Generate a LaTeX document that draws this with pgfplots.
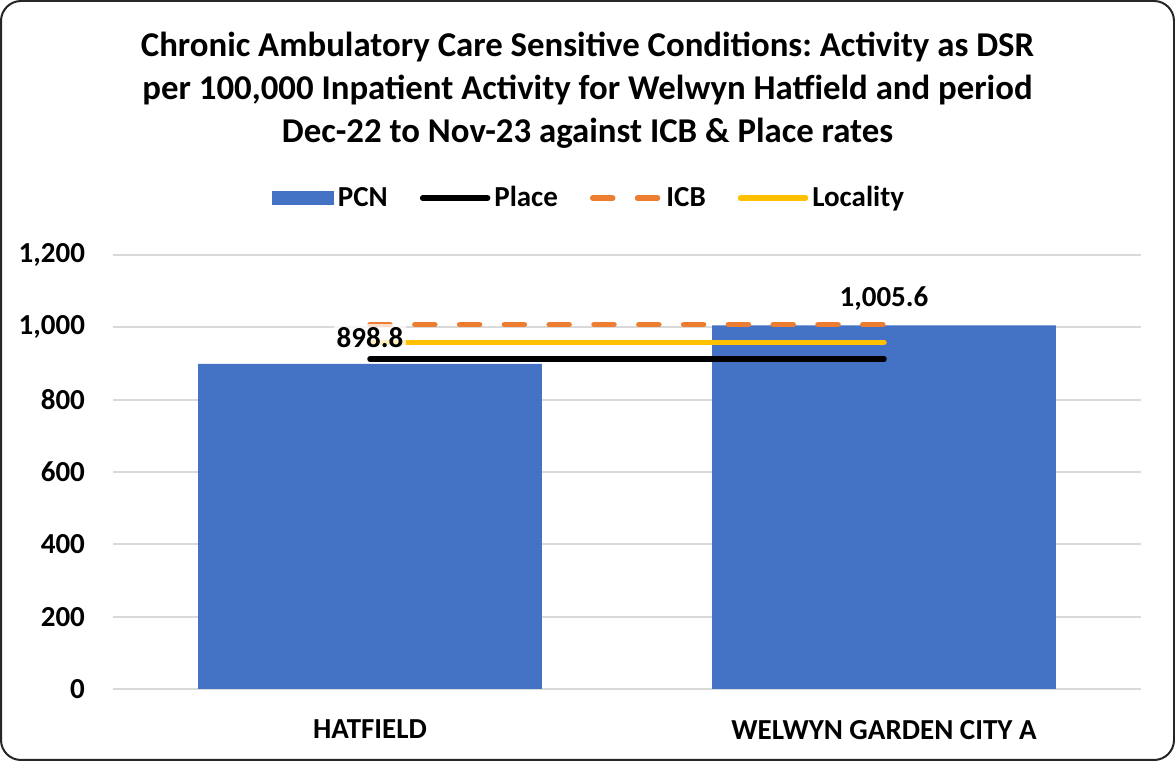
\documentclass[border=0pt]{standalone}
\usepackage{pgfplots}
\pgfplotsset{compat=1.18}
\usepackage{fontspec}
\setmainfont{Carlito}
\frenchspacing
\definecolor{barblue}{HTML}{4472C4}
\definecolor{icborange}{HTML}{ED7D31}
\definecolor{locyellow}{HTML}{FFC000}
\definecolor{gridgray}{HTML}{D9D9D9}
\begin{document}
\begin{tikzpicture}[x=1pt,y=1pt]
\draw[line width=1pt, rounded corners=10pt, draw=black!85] (0.5,0.5) rectangle (587,380);
\node[align=center, font=\bfseries\fontsize{17.4}{21.4}\selectfont] at (293.75,335.5)
  {Chronic Ambulatory Care Sensitive Conditions: Activity as DSR\\
   per 100,000 Inpatient Activity for Welwyn Hatfield and period\\
   Dec-22 to Nov-23 against ICB \& Place rates};
\begin{axis}[
  at={(56.5pt,36pt)}, anchor=south west,
  scale only axis, width=514pt, height=217pt,
  xmin=-0.5, xmax=1.5, ymin=0, ymax=1200,
  ytick={0,200,...,1200},
  xtick={0,1}, xticklabels={HATFIELD, WELWYN GARDEN CITY A},
  ymajorgrids, grid style={draw=gridgray, line width=1pt},
  axis line style={draw=none}, major tick length=0pt,
  tick label style={font=\bfseries\fontsize{14.5}{17}\selectfont},
  /pgf/number format/assume math mode=true,
  /pgf/number format/1000 sep={,},
  yticklabel style={xshift=-10.5pt},
  xticklabel style={yshift=-12pt},
  legend columns=4,
  legend style={draw=none, at={(0.464,1.131)}, anchor=center,
    font=\bfseries\fontsize{14.5}{17}\selectfont,
    /tikz/every even column/.append style={column sep=14pt}},
]
\addplot[ybar, bar width=0.669, fill=barblue, draw=none,
  legend image code/.code={\fill[barblue] (0pt,-3.5pt) rectangle (31pt,3.5pt);}]
  coordinates {(0,898.8) (1,1005.6)};
\addlegendentry{PCN}
\addplot[black, line width=2.75pt, line cap=round, mark=none,
  legend image code/.code={\draw[black, line width=2.75pt, line cap=round] (1.5pt,0) -- (34pt,0);}]
  coordinates {(0,912.4) (1,912.4)};
\addlegendentry{Place}
\addplot[icborange, line width=2.75pt, line cap=round, mark=none, dash pattern=on 10pt off 12.4pt,
  legend image code/.code={\draw[icborange, line width=2.75pt, line cap=round, dash pattern=on 10pt off 12.4pt] (1.5pt,0) -- (35pt,0);}]
  coordinates {(0,1007.4) (1,1007.4)};
\addlegendentry{ICB}
\addplot[locyellow, line width=2.75pt, line cap=round, mark=none,
  legend image code/.code={\draw[locyellow, line width=2.75pt, line cap=round] (1.5pt,0) -- (34pt,0);}]
  coordinates {(0,958.5) (1,958.5)};
\addlegendentry{Locality}
\addplot[draw=none, mark=none, forget plot,
  nodes near coords,
  nodes near coords style={font=\bfseries\fontsize{14.5}{17}\selectfont, anchor=center, yshift=13.25pt,
    fill=white, fill opacity=0.75, text opacity=1, inner sep=1.5pt,
    /pgf/number format/.cd, fixed, precision=1, fixed zerofill, 1000 sep={,}, assume math mode=true}]
  coordinates {(0,898.8) (1,1005.6)};
\end{axis}
\end{tikzpicture}
\end{document}
